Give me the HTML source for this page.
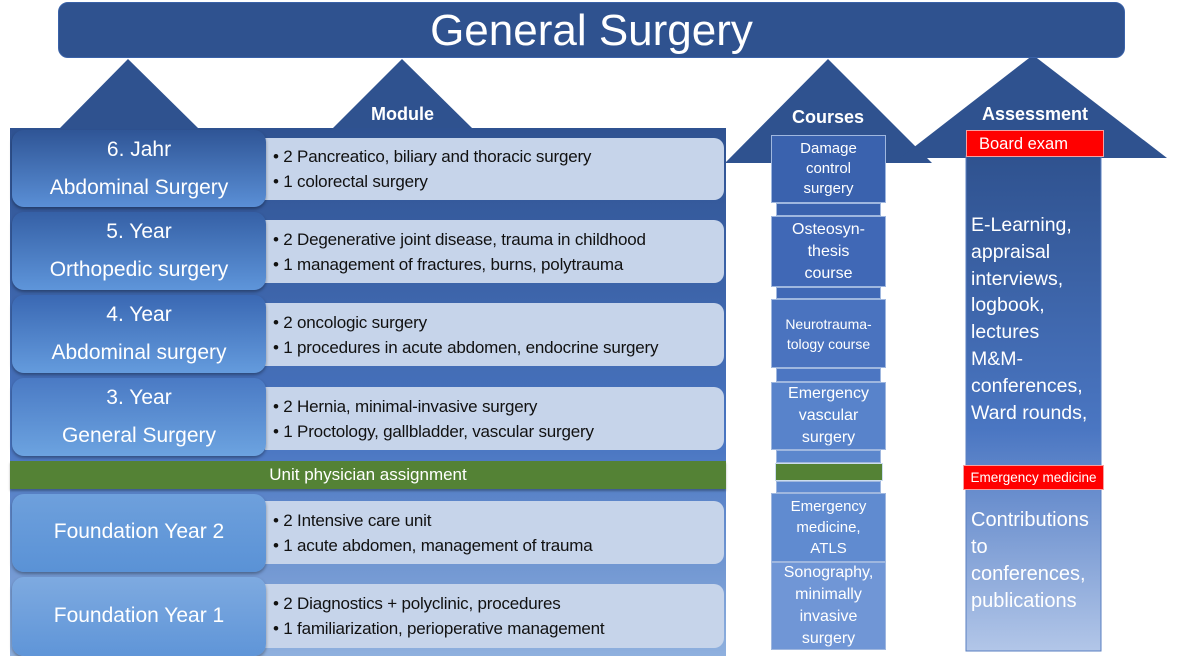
<!DOCTYPE html>
<html><head><meta charset="utf-8"><style>
*{margin:0;padding:0;box-sizing:border-box}
body{width:1181px;height:656px;position:relative;background:#fff;font-family:"Liberation Sans",sans-serif;overflow:hidden}
.a{position:absolute}
.bar{left:58px;top:2px;width:1067px;height:56px;background:#2f528f;border-radius:10px;color:#fff;font-size:44px;text-align:center;line-height:56px;border:1px solid #3a62a8}
.panel{left:10px;top:128px;width:716px;height:528px;background:linear-gradient(#2f5291,#4a76c2 60%,#8fb0de)}
.lb{left:12px;width:254px;border-radius:12px;color:#fff;text-align:center;font-size:21px;box-shadow:0 2px 3px rgba(0,0,0,.35)}
.rb{left:265px;width:459px;background:#c6d4ea;border-radius:0 10px 10px 0;font-size:17px;color:#111;padding-left:8px;display:flex;flex-direction:column;justify-content:center;line-height:25px;letter-spacing:-0.2px}
.cb{left:771px;width:115px;background:#3f66b3;border:1px solid #9fb7df;color:#fff;text-align:center;font-size:15px;line-height:20px;display:flex;align-items:center;justify-content:center}
.sep{left:776px;width:105px;background:#3f66b3;border:1px solid #9fb7df}
.red{background:#f00;color:#fff;border:1px solid #f5a0a0}
</style></head><body>
<svg class="a" style="left:0;top:0" width="1181" height="656">
<polygon points="128,59 60,128 198,128" fill="#2f528f"/>
<polygon points="402,59 333,128 472,128" fill="#2f528f"/>
<polygon points="828,59 725,163 932,163" fill="#2f528f"/>
<polygon points="1033,55 900,158 1167,158" fill="#2f528f"/>
<defs><linearGradient id="g" x1="0" y1="0" x2="0" y2="1"><stop offset="0" stop-color="#2f528f"/><stop offset=".55" stop-color="#4a76c2"/><stop offset="1" stop-color="#b2c6e8"/></linearGradient></defs>
<rect x="966" y="156" width="135" height="495" fill="url(#g)" stroke="#5a7fc0"/>
</svg>
<div class="a bar">General Surgery</div>
<div class="a" style="left:333px;top:104px;width:139px;text-align:center;color:#fff;font-weight:bold;font-size:18px">Module</div>
<div class="a" style="left:760px;top:107px;width:136px;text-align:center;color:#fff;font-weight:bold;font-size:18px">Courses</div>
<div class="a" style="left:960px;top:104px;width:150px;text-align:center;color:#fff;font-weight:bold;font-size:18px">Assessment</div>
<div class="a panel"></div>

<div class="a rb" style="top:138px;height:62px"><div>• 2 Pancreatico, biliary and thoracic surgery</div><div>• 1 colorectal surgery</div></div>
<div class="a rb" style="top:220px;height:63px"><div>• 2 Degenerative joint disease, trauma in childhood</div><div>• 1 management of fractures, burns, polytrauma</div></div>
<div class="a rb" style="top:303px;height:63px"><div>• 2 oncologic surgery</div><div>• 1 procedures in acute abdomen, endocrine surgery</div></div>
<div class="a rb" style="top:387px;height:63px"><div>• 2 Hernia, minimal-invasive surgery</div><div>• 1 Proctology, gallbladder, vascular surgery</div></div>
<div class="a rb" style="top:501px;height:63px"><div>• 2 Intensive care unit</div><div>• 1 acute abdomen, management of trauma</div></div>
<div class="a rb" style="top:584px;height:64px"><div>• 2 Diagnostics + polyclinic, procedures</div><div>• 1 familiarization, perioperative management</div></div>

<div class="a lb" style="top:130px;height:77px;background:linear-gradient(#2f5596,#5a8fd6);line-height:38px;padding-top:1px">6. Jahr<br>Abdominal Surgery</div>
<div class="a lb" style="top:212px;height:78px;background:linear-gradient(#3560a6,#5e95da);line-height:38px;padding-top:1px">5. Year<br>Orthopedic surgery</div>
<div class="a lb" style="top:295px;height:78px;background:linear-gradient(#3a68b3,#649bdd);line-height:38px;padding-top:1px">4. Year<br>Abdominal surgery</div>
<div class="a lb" style="top:378px;height:78px;background:linear-gradient(#4a7ac4,#6ca3e0);line-height:38px;padding-top:1px">3. Year<br>General Surgery</div>
<div class="a" style="left:10px;top:461px;width:716px;height:28px;background:#548235;color:#fff;text-align:center;font-size:17px;line-height:28px;box-shadow:0 2px 2px rgba(0,0,0,.3)">Unit physician assignment</div>
<div class="a lb" style="top:494px;height:78px;background:linear-gradient(#6ea0dc,#5a92d6);line-height:76px">Foundation Year 2</div>
<div class="a lb" style="top:577px;height:79px;background:linear-gradient(#7eaae0,#5f95d8);line-height:77px">Foundation Year 1</div>

<div class="a cb" style="top:135px;height:68px;background:#3a62ae">Damage<br>control<br>surgery</div>
<div class="a sep" style="top:203px;height:13px;background:#3a62ae"></div>
<div class="a cb" style="top:216px;height:71px;font-size:16px;line-height:22px;background:#4068b6">Osteosyn-<br>thesis<br>course</div>
<div class="a sep" style="top:287px;height:12px;background:#4068b6"></div>
<div class="a cb" style="top:299px;height:69px;font-size:14px;background:#4a73bf">Neurotrauma-<br>tology course</div>
<div class="a sep" style="top:368px;height:14px;background:#4c76c2"></div>
<div class="a cb" style="top:382px;height:68px;font-size:16px;line-height:22px;background:#5883cb">Emergency<br>vascular<br>surgery</div>
<div class="a sep" style="top:450px;height:13px;background:#5c87cd"></div>
<div class="a" style="left:775px;top:463px;width:108px;height:18px;background:#548235;border:1px solid #cde"></div>
<div class="a sep" style="top:481px;height:12px;background:#5f8ad0"></div>
<div class="a cb" style="top:493px;height:69px;background:#608bd0;font-size:15px;line-height:21px">Emergency<br>medicine,<br>ATLS</div>
<div class="a cb" style="top:562px;height:88px;background:#7096d6;font-size:16px;line-height:22px">Sonography,<br>minimally<br>invasive<br>surgery</div>

<div class="a red" style="left:966px;top:130px;width:138px;height:27px;font-size:16.5px;line-height:26px;padding-left:12px">Board exam</div>
<div class="a" style="left:971px;top:212px;color:#fff;font-size:19.5px;line-height:26.8px">E-Learning,<br>appraisal<br>interviews,<br>logbook,<br>lectures<br>M&amp;M-<br>conferences,<br>Ward rounds,</div>
<div class="a red" style="left:963px;top:465px;width:141px;height:25px;font-size:13.5px;line-height:24px;text-align:center">Emergency medicine</div>
<div class="a" style="left:971px;top:507px;color:#fff;font-size:20px;line-height:27px">Contributions<br>to<br>conferences,<br>publications</div>
</body></html>
